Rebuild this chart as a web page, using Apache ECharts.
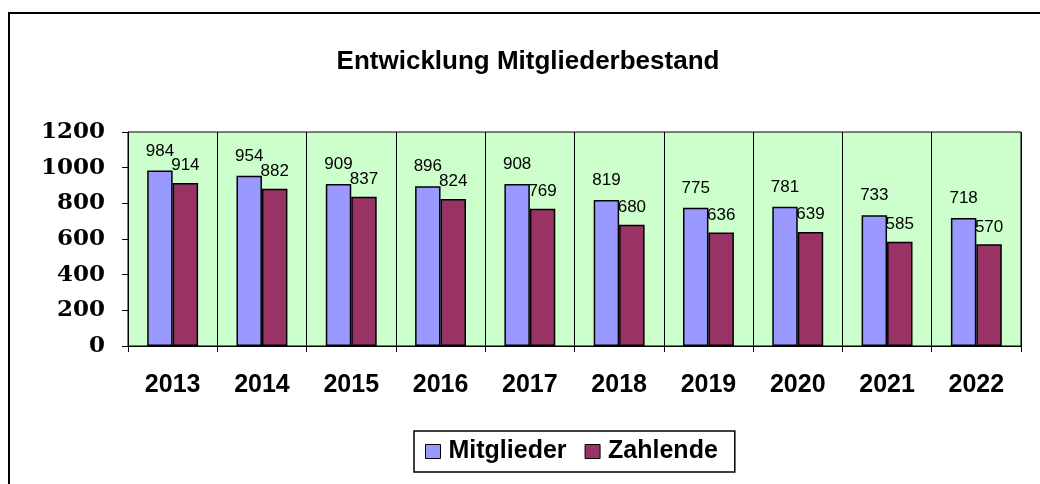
<!DOCTYPE html>
<html><head><meta charset="utf-8">
<script src="https://cdn.jsdelivr.net/npm/echarts@6/dist/echarts.min.js"></script>
<style>html,body{margin:0;padding:0;background:#fff}#c{width:1040px;height:484px}</style>
</head><body><div id="c"></div>
<script>
const years = ['2013','2014','2015','2016','2017','2018','2019','2020','2021','2022'];
const mitglieder = [984,954,909,896,908,819,775,781,733,718];
const zahlende = [914,882,837,824,769,680,636,639,585,570];
const yTicks = [0,200,400,600,800,1000,1200];

const chart = echarts.init(document.getElementById('c'));
chart.setOption({
  animation:false,
  backgroundColor:'#fff',
  title:{text:'Entwicklung Mitgliederbestand',left:523,top:44,textAlign:'center',
    textStyle:{fontFamily:'Liberation Sans, Arial',fontWeight:'bold',fontSize:26,color:'#000'}},
  graphic:[{type:'rect',shape:{x:9,y:13,width:1040,height:480},
    style:{fill:'none',stroke:'#000',lineWidth:2},z:-1}],
  legend:{left:414,top:431,itemGap:18,
    padding:[8,17,8,11],
    borderColor:'#000',borderWidth:1.5,
    itemWidth:15,itemHeight:14,icon:'rect',
    itemStyle:{borderColor:'#000',borderWidth:1},
    textStyle:{fontFamily:'Liberation Sans, Arial',fontWeight:'bold',fontSize:25,color:'#000',padding:[0,0,0,3]},
    data:['Mitglieder','Zahlende']},
  grid:{left:128,top:132,width:893,height:214,backgroundColor:'#ccffcc',show:true,borderWidth:1,borderColor:'#000'},
  xAxis:{type:'category',data:years,
    axisLine:{lineStyle:{color:'#000',width:1}},
    axisTick:{show:true,alignWithLabel:false,length:6,lineStyle:{color:'#000'}},
    splitLine:{show:true,lineStyle:{color:'#000',width:1}},
    axisLabel:{margin:27,fontFamily:'Liberation Sans, Arial',fontWeight:'bold',fontSize:25,color:'#000'}},
  yAxis:{type:'value',min:0,max:1200,interval:200,
    axisLine:{show:true,lineStyle:{color:'#000'}},
    axisTick:{show:true,length:6,lineStyle:{color:'#000'}},
    splitLine:{show:false},
    axisLabel:{margin:23,fontFamily:'DejaVu Serif',fontWeight:'bold',fontSize:23,color:'#000',
      formatter:v=>yTicks.includes(v)?String(v):''}},
  series:[
    {name:'Mitglieder',type:'bar',data:mitglieder,barGap:'0%',barCategoryGap:'43%',
     itemStyle:{color:'#9999ff',borderColor:'#000',borderWidth:1.5},
     label:{show:true,position:'top',distance:11,fontFamily:'Liberation Sans, Arial',fontSize:17,color:'#000'}},
    {name:'Zahlende',type:'bar',data:zahlende,
     itemStyle:{color:'#993366',borderColor:'#000',borderWidth:1.5},
     label:{show:true,position:'top',distance:9,fontFamily:'Liberation Sans, Arial',fontSize:17,color:'#000'}}
  ]
});
</script></body></html>
